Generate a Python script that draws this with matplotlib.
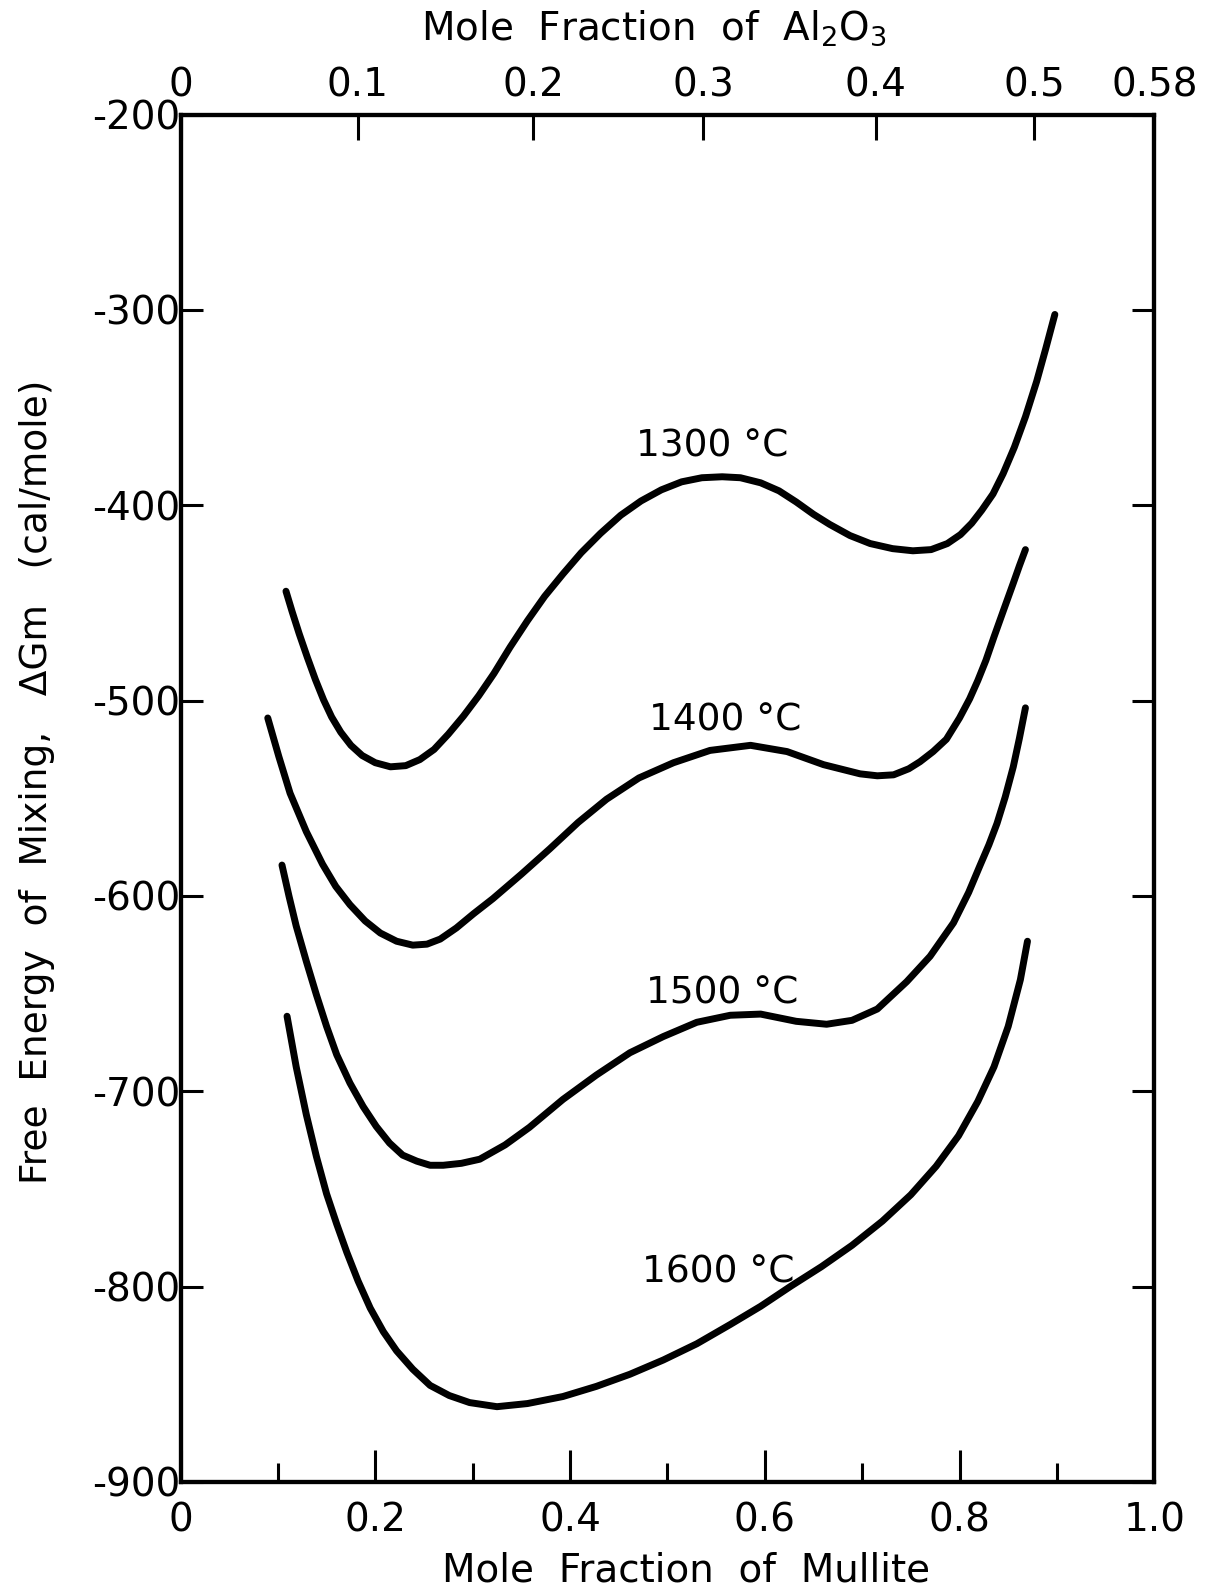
import matplotlib
matplotlib.use("Agg")
import matplotlib.pyplot as plt
from matplotlib.ticker import MultipleLocator

plt.rcParams["font.family"] = ["DejaVu Sans"]
plt.rcParams["axes.unicode_minus"] = False

# free energy of mixing (cal/mole) vs mole fraction of mullite
x_1300 = [0.1083, 0.1146, 0.1219, 0.1302, 0.1385, 0.1469, 0.1552, 0.1646, 0.1750, 0.1865,
          0.2000, 0.2156, 0.2313, 0.2458, 0.2604, 0.2750, 0.2906, 0.3063, 0.3219, 0.3385,
          0.3563, 0.3740, 0.3927, 0.4115, 0.4313, 0.4521, 0.4729, 0.4938, 0.5146, 0.5354,
          0.5563, 0.5750, 0.5958, 0.6146, 0.6323, 0.6500, 0.6667, 0.6875, 0.7083, 0.7313,
          0.7521, 0.7708, 0.7875, 0.8010, 0.8125, 0.8229, 0.8344, 0.8448, 0.8563, 0.8677,
          0.8792, 0.8885, 0.8979]
g_1300 = [-444.0, -454.4, -465.8, -477.8, -489.2, -499.6, -508.4, -516.2, -522.9, -528.1,
          -531.8, -533.9, -533.3, -530.2, -525.0, -517.2, -507.9, -497.5, -486.1, -472.6,
          -459.1, -446.6, -435.2, -424.3, -414.4, -405.1, -397.8, -392.1, -388.0, -385.9,
          -385.4, -385.9, -388.5, -392.6, -398.3, -404.6, -409.8, -415.5, -419.6, -422.2,
          -423.3, -422.7, -419.6, -415.0, -409.2, -402.5, -394.2, -383.8, -370.3, -354.7,
          -336.6, -319.9, -302.3]

x_1400 = [0.0896, 0.1010, 0.1125, 0.1292, 0.1458, 0.1594, 0.1740, 0.1896, 0.2052, 0.2219,
          0.2385, 0.2531, 0.2667, 0.2833, 0.3010, 0.3208, 0.3500, 0.3792, 0.4083, 0.4375,
          0.4708, 0.5063, 0.5438, 0.5854, 0.6229, 0.6604, 0.6979, 0.7156, 0.7323, 0.7479,
          0.7594, 0.7729, 0.7865, 0.8000, 0.8104, 0.8188, 0.8271, 0.8354, 0.8458, 0.8552,
          0.8615, 0.8677]
g_1400 = [-508.9, -528.7, -547.4, -567.1, -583.7, -595.1, -604.5, -612.8, -619.0, -623.2,
          -625.2, -624.7, -622.1, -616.4, -609.1, -601.4, -588.9, -575.9, -562.4, -550.5,
          -539.6, -531.8, -525.5, -522.9, -526.1, -532.8, -537.5, -538.5, -538.0, -534.9,
          -531.3, -526.1, -519.8, -508.9, -499.1, -489.7, -479.4, -467.4, -452.9, -439.9,
          -431.0, -422.7]

x_1500 = [0.1042, 0.1115, 0.1188, 0.1292, 0.1396, 0.1500, 0.1604, 0.1740, 0.1875, 0.2010,
          0.2146, 0.2281, 0.2427, 0.2563, 0.2698, 0.2885, 0.3073, 0.3333, 0.3583, 0.3927,
          0.4271, 0.4615, 0.4958, 0.5302, 0.5646, 0.5958, 0.6323, 0.6635, 0.6896, 0.7156,
          0.7458, 0.7698, 0.7938, 0.8094, 0.8208, 0.8302, 0.8385, 0.8469, 0.8552, 0.8615,
          0.8677]
g_1500 = [-584.2, -600.3, -615.4, -633.5, -650.7, -666.8, -681.3, -695.8, -707.8, -718.0,
          -726.5, -732.7, -735.8, -737.9, -737.9, -736.9, -734.8, -727.5, -718.5, -704.2,
          -691.7, -680.3, -672.0, -664.7, -661.1, -660.5, -664.2, -665.7, -663.7, -657.9,
          -643.9, -630.9, -613.8, -598.2, -584.7, -573.8, -562.9, -549.4, -533.9, -519.3,
          -503.7]

x_1600 = [0.1094, 0.1188, 0.1292, 0.1396, 0.1500, 0.1604, 0.1708, 0.1823, 0.1948, 0.2083,
          0.2219, 0.2385, 0.2563, 0.2760, 0.2969, 0.3250, 0.3563, 0.3927, 0.4271, 0.4615,
          0.4958, 0.5302, 0.5646, 0.5958, 0.6271, 0.6583, 0.6896, 0.7208, 0.7500, 0.7760,
          0.7990, 0.8188, 0.8354, 0.8500, 0.8625, 0.8698]
g_1600 = [-661.6, -687.5, -712.0, -733.5, -752.5, -768.0, -782.5, -797.1, -811.0, -823.1,
          -832.9, -842.3, -850.6, -855.8, -859.4, -861.5, -859.9, -856.3, -851.1, -844.9,
          -837.6, -829.3, -819.4, -810.1, -799.7, -789.8, -778.9, -766.5, -753.0, -738.4,
          -722.8, -705.2, -687.5, -666.8, -642.9, -623.2]

curve_labels = ["1300 °C", "1400 °C", "1500 °C", "1600 °C"]
label_x = [0.546, 0.559, 0.556, 0.552]
label_y = [-370, -510, -650, -793]

# top axis: mole fraction of Al2O3, tick positions on the mullite scale
al2o3_pos = [0.0, 0.182, 0.362, 0.537, 0.714, 0.877, 1.0]
al2o3_labels = ["0", "0.1", "0.2", "0.3", "0.4", "0.5", "0.58"]

mullite_ticks = [0, 0.2, 0.4, 0.6, 0.8, 1.0]
mullite_labels = ["0", "0.2", "0.4", "0.6", "0.8", "1.0"]
g_ticks = [-900, -800, -700, -600, -500, -400, -300, -200]

fig = plt.figure(figsize=(12.05, 15.90), dpi=100)
ax = fig.add_axes([0.1498, 0.0680, 0.8081, 0.8599])

for xs, gs in [(x_1300, g_1300), (x_1400, g_1400), (x_1500, g_1500), (x_1600, g_1600)]:
    ax.plot(xs, gs, color="black", lw=5, solid_capstyle="round", solid_joinstyle="round")

for t, lx, ly in zip(curve_labels, label_x, label_y):
    ax.text(lx, ly, t, fontsize=27, ha="center", va="center")

ax.set_xlim(0, 1)
ax.set_ylim(-900, -200)
ax.set_xticks(mullite_ticks, mullite_labels)
ax.xaxis.set_minor_locator(MultipleLocator(0.1))
ax.set_yticks(g_ticks, [str(v) for v in g_ticks])

for s in ax.spines.values():
    s.set_linewidth(3)

ax.tick_params(axis="x", which="major", direction="in", length=23, width=2.2,
               labelsize=28, pad=14, top=False)
ax.tick_params(axis="x", which="minor", direction="in", length=14, width=2.2, top=False)
ax.tick_params(axis="y", direction="in", length=16, width=2.2, labelsize=28, pad=0,
               left=True, right=True)

ax2 = ax.twiny()
ax2.set_xlim(0, 1)
ax2.set_xticks(al2o3_pos, al2o3_labels)
ax2.tick_params(axis="x", direction="in", length=18, width=2.2, labelsize=28, pad=7)
for s in ax2.spines.values():
    s.set_linewidth(3)

fig.text(0.543, 0.982, "Mole  Fraction  of  Al$_2$O$_3$", fontsize=28, ha="center", va="center")
fig.text(0.569, 0.0125, "Mole  Fraction  of  Mullite", fontsize=28, ha="center", va="center")
fig.text(0.0303, 0.508, "Free  Energy  of  Mixing,   ΔGm   (cal/mole)", fontsize=27,
         rotation=90, ha="center", va="center")

fig.savefig("out.png", dpi=100)
